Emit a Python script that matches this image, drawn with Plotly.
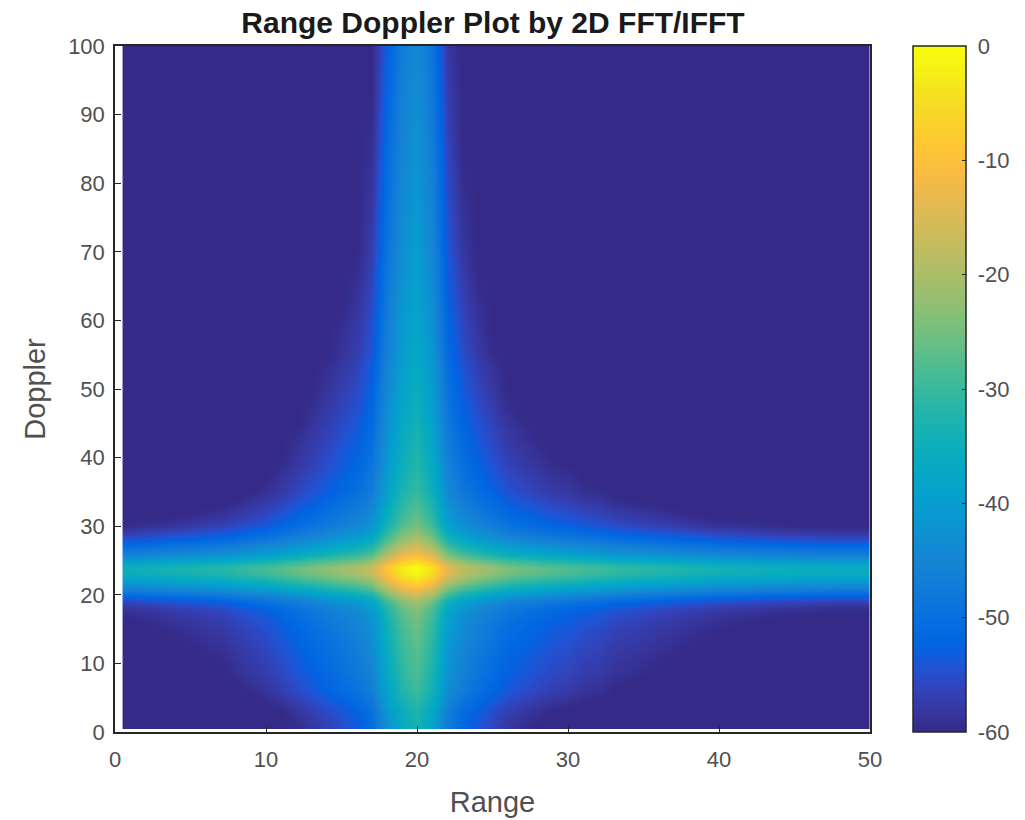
import plotly.graph_objects as go

range_bins = list(range(1, 51))
doppler_bins = list(range(1, 101))
range_profile_db = [
    -35, -34.5, -34, -33.5, -33, -32.5, -32, -31, -30, -29,
    -27.5, -26, -24.5, -23, -21.5, -20, -17, -9, -3, 0,
    -5, -14, -18, -20.5, -22.5, -24.5, -25.5, -26.5, -27.5, -28,
    -29, -29.5, -30.5, -31, -31.5, -32, -32.5, -33, -33.5, -34,
    -34.3, -34.6, -34.9, -35.2, -35.4, -35.6, -35.8, -36, -36, -36,
]
doppler_profile_db = [
    -33.5, -33, -32.5, -31.5, -30.5, -29.5, -29, -28.5, -28, -27.7,
    -27.4, -27, -26.6, -26.2, -25.8, -25.2, -24.5, -23.5, -21, -16,
    -10, -5, -0.5, 0, -5, -11, -15, -19, -22, -24.5,
    -26, -27, -28, -29, -30, -30.5, -31, -31.5, -32, -32.3,
    -32.6, -33, -33.3, -33.6, -34, -34.3, -34.6, -34.9, -35.2, -35.5,
    -35.8, -36, -36.3, -36.6, -37, -37.2, -37.4, -37.6, -37.8, -38,
    -38.2, -38.4, -38.6, -38.8, -39, -39.2, -39.4, -39.6, -39.8, -40,
    -40.1, -40.3, -40.4, -40.6, -40.7, -40.9, -41, -41.1, -41.3, -41.4,
    -41.5, -41.6, -41.8, -41.9, -42, -42.1, -42.3, -42.4, -42.5, -42.7,
    -42.8, -42.9, -43, -43.2, -43.3, -43.4, -43.6, -43.7, -43.9, -44,
]
floor_db = -60
colorbar_ticks = [0, -10, -20, -30, -40, -50, -60]
colorbar_labels = ["\u00a00", "\u00a0-10", "\u00a0-20", "\u00a0-30", "\u00a0-40", "\u00a0-50", "\u00a0-60"]
axis_x_ticks = [0, 10, 20, 30, 40, 50]
axis_y_ticks = [0, 10, 20, 30, 40, 50, 60, 70, 80, 90, 100]

parula = [
    (0.2081, 0.1663, 0.5292), (0.2123, 0.2138, 0.6270), (0.1959, 0.2645, 0.7279),
    (0.1253, 0.3242, 0.8303), (0.0117, 0.3875, 0.8820), (0.0165, 0.4266, 0.8786),
    (0.0498, 0.4586, 0.8641), (0.0723, 0.4887, 0.8467), (0.0793, 0.5200, 0.8312),
    (0.0641, 0.5570, 0.8240), (0.0343, 0.5966, 0.8199), (0.0239, 0.6287, 0.8038),
    (0.0228, 0.6535, 0.7768), (0.0384, 0.6743, 0.7436), (0.0843, 0.6928, 0.7062),
    (0.1453, 0.7098, 0.6646), (0.2178, 0.7250, 0.6193), (0.3022, 0.7376, 0.5712),
    (0.3953, 0.7459, 0.5244), (0.4871, 0.7491, 0.4840), (0.5709, 0.7485, 0.4494),
    (0.6473, 0.7456, 0.4188), (0.7184, 0.7411, 0.3905), (0.7858, 0.7356, 0.3633),
    (0.8507, 0.7299, 0.3360), (0.9139, 0.7258, 0.3063), (0.9739, 0.7314, 0.2666),
    (0.9990, 0.7653, 0.2164), (0.9880, 0.8066, 0.1794), (0.9697, 0.8481, 0.1475),
    (0.9589, 0.8949, 0.1132), (0.9661, 0.9514, 0.0755), (0.9763, 0.9831, 0.0538),
]
colorscale = [
    [i / (len(parula) - 1), f"rgb({r*255:.0f},{g*255:.0f},{b*255:.0f})"]
    for i, (r, g, b) in enumerate(parula)
]

z = [[max(floor_db, a + b) for a in range_profile_db] for b in doppler_profile_db]

font = "Liberation Sans, Arial, sans-serif"
axis_common = dict(
    showgrid=False, zeroline=False, showline=True, linecolor="#262626", linewidth=1.5, mirror=True,
    ticks="inside", ticklen=6, tickcolor="#262626", tickwidth=1,
    tickfont=dict(family=font, size=22, color="#505050"),
)

fig = go.Figure(go.Heatmap(
    x=range_bins, y=doppler_bins, z=z, zmin=floor_db, zmax=0, zsmooth="best",
    colorscale=colorscale,
    colorbar=dict(
        thickness=53, thicknessmode="pixels", len=1, lenmode="fraction", x=1.057, xanchor="left",
        y=0.5, yanchor="middle", xpad=0, ypad=0, tickmode="array", tickvals=colorbar_ticks, ticktext=colorbar_labels,
        ticks="inside", ticklen=4, tickcolor="#262626", outlinecolor="#262626", outlinewidth=1.5,
        tickfont=dict(family=font, size=22, color="#505050"),
    ),
))
fig.update_layout(
    width=1025, height=820, paper_bgcolor="white", plot_bgcolor="white",
    margin=dict(l=115, r=155, t=46, b=88, autoexpand=False),
    title=dict(text="<b>Range Doppler Plot by 2D FFT/IFFT</b>", x=0.481, xanchor="center", y=0.973, yanchor="middle",
               font=dict(family=font, size=30, color="#1a1a1a")),
    xaxis=dict(range=[0, 50], tickvals=axis_x_ticks, ticklabelstandoff=7,
               title=dict(text="Range", standoff=21, font=dict(family=font, size=29, color="#505050")), **axis_common),
    yaxis=dict(range=[0, 100], tickvals=axis_y_ticks, ticklabelstandoff=4,
               title=dict(text="Doppler", standoff=14, font=dict(family=font, size=29, color="#505050")), **axis_common),
)
fig.write_html("out.html", post_script="document.body.style.margin='0';", config=dict(displayModeBar=False))
